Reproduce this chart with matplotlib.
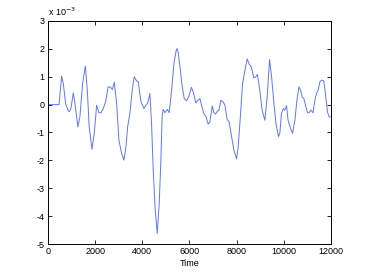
import matplotlib
matplotlib.use('Agg')
import matplotlib.pyplot as plt

# signal values, y in units of 1e-3
time = [0, 470, 580, 650, 750, 835, 905, 975, 1075, 1145, 1270, 1355, 1470,
        1585, 1670, 1750, 1865, 1965, 2065, 2160, 2250, 2345, 2445, 2555,
        2660, 2730, 2815, 2915, 3010, 3125, 3225, 3310, 3380, 3475, 3575,
        3660, 3760, 3830, 3945, 4070, 4155, 4225, 4325, 4395, 4465, 4550,
        4635, 4720, 4790, 4845, 4890, 4960, 5060, 5145, 5245, 5345, 5430,
        5470, 5520, 5600, 5695, 5780, 5880, 5980, 6090, 6160, 6275, 6345,
        6445, 6515, 6610, 6695, 6795, 6870, 6970, 7040, 7110, 7195, 7250,
        7335, 7430, 7505, 7600, 7685, 7790, 7885, 8000, 8070, 8170, 8255,
        8355, 8450, 8535, 8630, 8730, 8815, 8885, 8985, 9085, 9200, 9300,
        9400, 9485, 9585, 9670, 9780, 9835, 9905, 9990, 10045, 10120, 10185,
        10290, 10375, 10475, 10560, 10645, 10715, 10785, 10855, 10940, 11010,
        11080, 11150, 11245, 11320, 11390, 11460, 11535, 11605, 11700, 11770,
        11855, 11925, 12000]
signal = [0, 0, 1.02, 0.76, 0.04, -0.17, -0.26, -0.14, 0.42, 0.04, -0.8,
          -0.44, 0.76, 1.38, 0.52, -0.8, -1.6, -1.03, -0.02, -0.29, -0.29,
          -0.14, 0.1, 0.64, 0.62, 0.54, 0.8, 0.04, -1.27, -1.75, -1.99, -1.51,
          -0.8, -0.32, 0.52, 1.0, 0.85, 0.82, 0.1, -0.14, -0.02, 0.04, 0.4,
          -0.7, -2.35, -3.78, -4.62, -3.54, -1.99, -0.4, -0.17, -0.29, -0.17,
          -0.29, 0.52, 1.48, 1.9, 2.01, 1.9, 1.35, 0.64, 0.22, 0.14, 0.3, 0.62,
          0.46, 0.06, 0.14, 0.22, -0.02, -0.32, -0.41, -0.7, -0.62, -0.05,
          -0.29, -0.34, -0.22, -0.22, 0.16, 0.1, -0.02, -0.53, -0.62, -1.15,
          -1.63, -1.95, -1.51, -0.32, 0.76, 1.24, 1.64, 1.45, 1.35, 0.96, 1.0,
          1.08, 0.52, -0.2, -0.56, 0.28, 1.62, 1.0, 0.04, -0.67, -1.15, -1.03,
          -0.32, -0.14, -0.2, -0.04, -0.56, -0.85, -1.03, -0.56, 0.16, 0.64,
          0.52, 0.26, 0.22, -0.08, -0.29, -0.29, -0.2, -0.29, 0.16, 0.4, 0.52,
          0.82, 0.88, 0.85, 0.4, -0.26, -0.44, -0.44]

xticks = [0, 2000, 4000, 6000, 8000, 10000, 12000]
yticks = [-5, -4, -3, -2, -1, 0, 1, 2, 3]

plt.rcParams['font.family'] = ['Liberation Sans', 'DejaVu Sans']
plt.rcParams['font.size'] = 6.5

fig = plt.figure(figsize=(3.66, 2.75), dpi=100)
ax = fig.add_axes([0.131, 0.1127, 0.773, 0.811])

ax.plot(time, signal, color='#5f74ff', linewidth=0.7)

ax.set_xlim(0, 12000)
ax.set_ylim(-5, 3)
ax.set_xticks(xticks)
ax.set_yticks(yticks)
ax.set_yticklabels([str(v) for v in yticks])
ax.tick_params(direction='in', top=True, right=True, length=3, width=0.6,
               pad=2.5, labelsize=6.5)
for s in ax.spines.values():
    s.set_linewidth(0.7)

ax.set_xlabel('Time', fontsize=6.5, labelpad=1.5)
ax.text(0, 1.012, r'x 10$^{-3}$', transform=ax.transAxes, fontsize=6.5,
        ha='left', va='bottom')

fig.savefig('out.png', dpi=100)
